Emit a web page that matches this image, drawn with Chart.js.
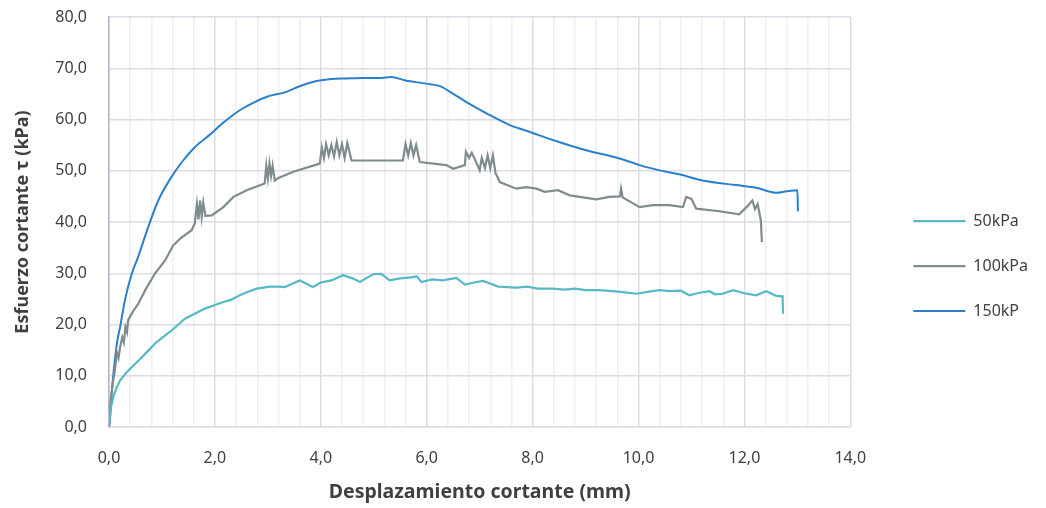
<!DOCTYPE html>
<html>
<head>
<meta charset="utf-8">
<script src="https://cdn.jsdelivr.net/npm/chart.js@4.4.1/dist/chart.umd.min.js"></script>
<style>
  html, body { margin: 0; padding: 0; background: #fff; }
  #wrap { width: 1046px; height: 508px; }
</style>
</head>
<body>
<div id="wrap"><canvas id="chart"></canvas></div>
<script>
// Ensayo de corte directo: esfuerzo cortante vs desplazamiento
const seriesNames = ['50kPa', '100kPa', '150kP'];

const x50 = [0, 0.03, 0.08, 0.14, 0.21, 0.36, 0.5, 0.62, 0.75, 0.87, 1.0, 1.18, 1.3, 1.43, 1.6, 1.81, 2.0, 2.16, 2.3, 2.47,
  2.6, 2.79, 3.04, 3.2, 3.32, 3.45, 3.6, 3.72, 3.85, 4.0, 4.2, 4.42, 4.6, 4.74, 4.85, 4.99, 5.14, 5.3, 5.5, 5.7,
  5.81, 5.9, 6.1, 6.3, 6.56, 6.72, 6.9, 7.06, 7.2, 7.35, 7.69, 7.9, 8.1, 8.38, 8.6, 8.8, 9.0, 9.26, 9.5, 9.7,
  9.96, 10.2, 10.4, 10.58, 10.8, 10.96, 11.15, 11.34, 11.45, 11.59, 11.78, 12.0, 12.22, 12.41, 12.6, 12.72, 12.73];
const y50 = [0, 3.5, 5.8, 7.6, 9.1, 11.0, 12.4, 13.6, 15.0, 16.3, 17.4, 18.8, 19.9, 21.1, 22.0, 23.1, 23.8, 24.4, 24.8, 25.7,
  26.3, 27.0, 27.4, 27.4, 27.3, 27.9, 28.6, 28.0, 27.3, 28.2, 28.6, 29.6, 29.0, 28.3, 29.0, 29.8, 29.9, 28.6, 29.0, 29.2,
  29.4, 28.3, 28.8, 28.6, 29.1, 27.8, 28.2, 28.5, 28.0, 27.4, 27.2, 27.4, 27.0, 27.0, 26.8, 27.0, 26.7, 26.7, 26.5, 26.3,
  26.0, 26.4, 26.7, 26.5, 26.6, 25.7, 26.2, 26.5, 25.9, 26.0, 26.7, 26.1, 25.7, 26.5, 25.6, 25.5, 22.1];

const x100 = [0, 0.03, 0.07, 0.11, 0.15, 0.18, 0.21, 0.25, 0.28, 0.31, 0.34, 0.36, 0.45, 0.55, 0.7, 0.87, 1.06, 1.21, 1.35, 1.56,
  1.62, 1.66, 1.69, 1.72, 1.75, 1.78, 1.82, 1.94, 2.16, 2.35, 2.6, 2.94, 2.97, 3.0, 3.03, 3.06, 3.09, 3.13, 3.2, 3.48,
  3.98, 4.02, 4.06, 4.1, 4.15, 4.2, 4.25, 4.3, 4.35, 4.4, 4.45, 4.5, 4.58, 5.11, 5.55, 5.6, 5.65, 5.7, 5.75, 5.8,
  5.87, 6.37, 6.5, 6.72, 6.74, 6.8, 6.85, 6.92, 7.0, 7.04, 7.1, 7.15, 7.2, 7.25, 7.3, 7.32, 7.38, 7.69, 7.88, 8.07,
  8.23, 8.48, 8.7, 9.2, 9.45, 9.65, 9.67, 9.7, 10.02, 10.27, 10.58, 10.84, 10.9, 11.0, 11.09, 11.53, 11.9, 12.05, 12.15, 12.2,
  12.25, 12.31, 12.33];
const y100 = [0, 5, 8.5, 11, 14.5, 13.5, 15.6, 17.5, 16.5, 19.5, 18.5, 20.8, 22.5, 24, 27, 30, 32.5, 35.4, 36.8, 38.4,
  39.7, 43.5, 40.5, 44.2, 41, 43.8, 41.2, 41.3, 42.9, 44.9, 46.2, 47.5, 51, 48.5, 51.4, 49, 51, 48.1, 48.6, 49.8,
  51.4, 54.5, 52.5, 55.2, 53, 55, 52.8, 55.6, 53, 55.2, 52.5, 55.4, 52, 52, 52, 55.2, 53, 55.4, 53, 55,
  51.7, 51.1, 50.4, 51.1, 53.7, 52.5, 53.5, 52, 50.1, 52.5, 50.5, 53, 50.5, 53, 49.5, 49.1, 47.8, 46.5, 46.8, 46.5,
  45.9, 46.2, 45.2, 44.4, 44.9, 45, 46.5, 44.8, 42.9, 43.3, 43.3, 42.9, 44.9, 44.5, 42.6, 42.1, 41.5, 43, 44.2, 42.5,
  43.5, 40.3, 36.1];

const x150 = [0, 0.02, 0.05, 0.08, 0.11, 0.16, 0.21, 0.3, 0.43, 0.55, 0.74, 0.93, 1.18, 1.4, 1.62, 1.9, 2.15, 2.47, 2.75, 2.97,
  3.35, 3.6, 3.92, 4.2, 4.48, 4.8, 5.11, 5.33, 5.6, 5.99, 6.25, 6.5, 6.75, 7.13, 7.57, 7.94, 8.38, 9.01, 9.64, 10.02,
  10.52, 10.77, 11.21, 11.84, 12.22, 12.6, 12.8, 13.0, 13.01];
const y150 = [0, 1.6, 6.5, 10, 13, 17, 19.5, 24.7, 29.9, 33.2, 39, 44.2, 48.8, 52, 54.6, 57, 59.3, 61.8, 63.4, 64.4,
  65.4, 66.5, 67.5, 67.9, 68.0, 68.1, 68.1, 68.3, 67.6, 67.0, 66.5, 65.0, 63.4, 61.2, 58.9, 57.6, 56.0, 54.0, 52.4, 51.1,
  49.8, 49.3, 48.1, 47.2, 46.7, 45.7, 46.0, 46.2, 42.1];

const xTickMin = 0, xTickMax = 14, xMajorStep = 2, xMinorStep = 0.4;
const yTickMin = 0, yTickMax = 80, yStep = 10;

const colors = ['#56b9c4', '#7f8c8d', '#2a80cd'];
const textColor = '#404040';
const fontFamily = "'Noto Sans', 'Open Sans', sans-serif";

const pts = (xs, ys) => xs.map((x, i) => ({ x, y: ys[i] }));
const comma = v => v.toFixed(1).replace('.', ',');
const isMajor = v => Math.abs(v / xMajorStep - Math.round(v / xMajorStep)) < 1e-6;

const seriesData = [pts(x50, y50), pts(x100, y100), pts(x150, y150)];

new Chart(document.getElementById('chart'), {
  type: 'scatter',
  data: {
    datasets: seriesNames.map((name, i) => ({
      label: name,
      data: seriesData[i],
      showLine: true,
      borderColor: colors[i],
      backgroundColor: colors[i],
      borderWidth: i === 2 ? 2 : 2.2,
      pointRadius: 0,
      pointHoverRadius: 0,
      // the 150 kPa curve is smooth, the others stay jagged
      cubicInterpolationMode: i === 2 ? 'monotone' : 'default',
      tension: 0,
    })),
  },
  options: {
    responsive: true,
    maintainAspectRatio: false,
    animation: false,
    layout: { padding: { top: 17, left: 0, right: 8, bottom: 0 } },
    plugins: {
      tooltip: { enabled: false },
      legend: {
        position: 'right',
        // blank title only pushes the entries down a little
        title: { display: true, text: '', font: { size: 6 }, padding: 0 },
        labels: {
          usePointStyle: true,
          pointStyle: 'line',
          pointStyleWidth: 52,
          padding: 29,
          color: textColor,
          font: { family: fontFamily, size: 16 },
        },
      },
    },
    scales: {
      x: {
        type: 'linear',
        min: xTickMin,
        max: xTickMax,
        afterFit: s => { s.height = 81; },
        ticks: {
          stepSize: xMinorStep,
          autoSkip: false,
          maxRotation: 0,
          padding: 22,
          color: textColor,
          font: { family: fontFamily, size: 16 },
          callback: v => isMajor(v) ? comma(v) : '',
        },
        grid: {
          drawTicks: false,
          color: c => (c.tick && isMajor(c.tick.value)) ? '#dcdce5' : '#efeff4',
          lineWidth: 1.5,
        },
        border: { color: '#dcdce5', width: 1.5 },
        title: {
          display: true,
          text: 'Desplazamiento cortante (mm)',
          color: textColor,
          font: { family: fontFamily, size: 19.5, weight: 'bold' },
          padding: { top: 2, bottom: 4 },
        },
      },
      y: {
        min: yTickMin,
        max: yTickMax,
        afterFit: s => { s.width = 109; },
        ticks: {
          stepSize: yStep,
          padding: 0,
          color: textColor,
          font: { family: fontFamily, size: 16 },
          callback: v => comma(v),
        },
        // invisible tick marks keep the labels off the axis
        grid: { drawTicks: true, tickLength: 22, tickColor: 'rgba(0,0,0,0)', color: '#dcdce5', lineWidth: 1.5 },
        border: { color: '#b6b5ca', width: 1.5 },
        title: {
          display: true,
          text: 'Esfuerzo cortante τ (kPa)',
          color: textColor,
          font: { family: fontFamily, size: 18, weight: 'bold' },
          padding: { top: 12, bottom: 4 },
        },
      },
      // empty band between plot and legend
      gap: {
        type: 'linear',
        axis: 'y',
        position: 'right',
        grid: { display: false, drawTicks: false },
        border: { display: false },
        ticks: { display: false },
        afterFit: s => { s.width = 34; },
      },
    },
  },
});
</script>
</body>
</html>
